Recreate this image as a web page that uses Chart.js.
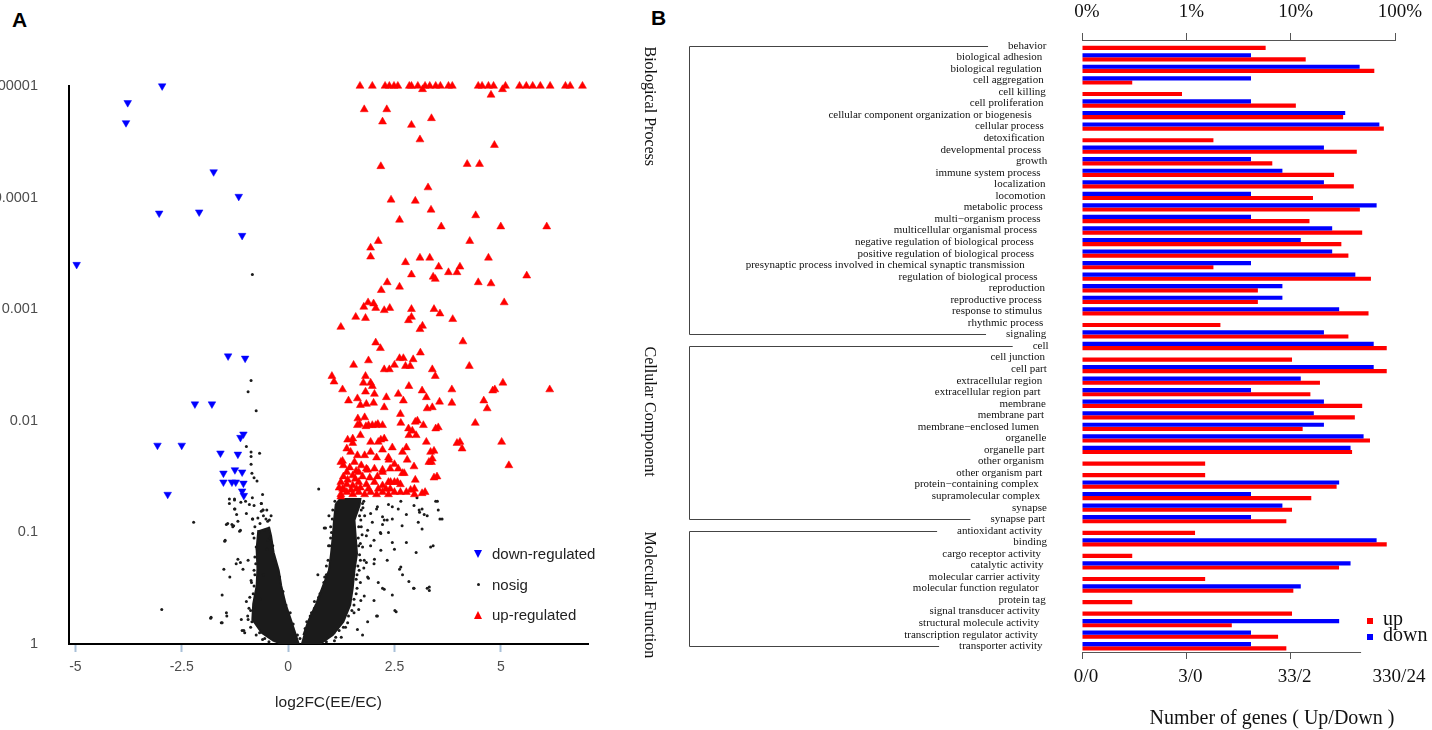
<!DOCTYPE html>
<html>
<head>
<meta charset="utf-8">
<script src="https://cdn.jsdelivr.net/npm/chart.js@4.4.1/dist/chart.umd.min.js"></script>
<style>
  html, body { margin: 0; padding: 0; background: #fff; }
  body { width: 1432px; height: 730px; position: relative; overflow: hidden; font-family: "Liberation Sans", Arial, sans-serif; }
  #wrapA { position: absolute; left: -12px; top: 0; }
  #wrapB { position: absolute; left: 640px; top: 0; }
  .tag { position: absolute; font: bold 21px/21px "Liberation Sans", Arial, sans-serif; color: #000; }
  .lgA { position: absolute; left: 474px; height: 16px; line-height: 16px; font-size: 15px; color: #222; }
  .lgA .mk { position: absolute; left: 0; top: 4px; width: 0; height: 0; }
  .lgA .txt { position: absolute; left: 18px; top: 0; white-space: nowrap; }
  .mk.down { border-left: 4.5px solid transparent; border-right: 4.5px solid transparent; border-top: 8px solid #0000ff; }
  .mk.dot { left: 3px !important; top: 6px !important; width: 3px !important; height: 3px !important; border-radius: 50%; background: #1b1b1b; }
  .mk.up { border-left: 4.5px solid transparent; border-right: 4.5px solid transparent; border-bottom: 8px solid #ff0000; }
  .lgB { position: absolute; left: 1383px; font: 20px/20px "Liberation Serif", "Times New Roman", serif; color: #111; white-space: nowrap; }
  .sqB { position: absolute; left: 1367px; width: 6px; height: 6px; }
  #titleB { position: absolute; left: 1122px; width: 300px; top: 705px; text-align: center; font: 20px/24px "Liberation Serif", "Times New Roman", serif; color: #111; white-space: nowrap; }
</style>
</head>
<body>
<div class="tag" style="left:12px; top:9px;">A</div>
<div class="tag" style="left:651px; top:7px;">B</div>

<div id="wrapA"><canvas id="volcano" width="640" height="730"></canvas></div>
<div id="wrapB"><canvas id="goBars" width="792" height="730"></canvas></div>

<div class="lgA" style="top:546px;"><span class="mk down"></span><span class="txt">down-regulated</span></div>
<div class="lgA" style="top:577px;"><span class="mk dot"></span><span class="txt">nosig</span></div>
<div class="lgA" style="top:607px;"><span class="mk up"></span><span class="txt">up-regulated</span></div>

<div class="sqB" style="top:618px; background:#ff0000;"></div>
<div class="lgB" style="top:608px;">up</div>
<div class="sqB" style="top:634px; background:#0000ff;"></div>
<div class="lgB" style="top:624px;">down</div>
<div id="titleB">Number of genes ( Up/Down )</div>

<script>
// ---------- Panel A: volcano plot, points are [log2FC, log10(p)] ----------
var xTickValues = [-5, -2.5, 0, 2.5, 5];
var xTickLabels = ['-5', '-2.5', '0', '2.5', '5'];
var yTickValues = [0.00001, 0.0001, 0.001, 0.01, 0.1, 1];
var yTickLabels = ['0.00001', '0.0001', '0.001', '0.01', '0.1', '1'];

var downGenes = [
  [-2.96,-5.0],[-3.77,-4.85],[-3.81,-4.67],[-1.75,-4.23],[-1.16,-4.01],[-3.03,-3.86],[-2.09,-3.87],
  [-1.08,-3.66],[-4.97,-3.40],[-1.41,-2.58],[-1.01,-2.56],[-2.19,-2.15],[-1.79,-2.15],[-1.05,-1.88],
  [-1.12,-1.85],[-3.07,-1.78],[-2.50,-1.78],[-1.59,-1.71],[-1.18,-1.70],[-1.52,-1.53],[-1.25,-1.56],
  [-1.08,-1.54],[-1.52,-1.45],[-1.32,-1.45],[-1.23,-1.45],[-1.05,-1.44],[-1.08,-1.37],[-1.04,-1.33],
  [-2.83,-1.34]
];

var upGenes = [
  [1.69,-5],[1.98,-5],[2.28,-5],[2.38,-5],[2.49,-5],[2.58,-5],[2.85,-5],[2.90,-5],[3.05,-5],[3.22,-5],
  [3.33,-5],[3.47,-5],[3.58,-5],[3.77,-5],[3.86,-5],[4.47,-5],[4.56,-5],[4.71,-5],[4.83,-5],[5.11,-5],
  [5.44,-5],[5.60,-5],[5.75,-5],[5.93,-5],[6.16,-5],[6.52,-5],[6.63,-5],[6.92,-5],[3.16,-4.97],[5.04,-4.97],
  [4.77,-4.92],
  [1.79,-4.79],[2.32,-4.79],[2.22,-4.68],[2.90,-4.65],[3.37,-4.71],[3.10,-4.52],[4.85,-4.47],[2.18,-4.28],
  [4.21,-4.30],[4.50,-4.30],[3.29,-4.09],[2.42,-3.98],[2.99,-3.97],[3.36,-3.89],[4.41,-3.84],[2.62,-3.80],
  [3.60,-3.74],[5.00,-3.74],[6.08,-3.74],[2.12,-3.61],[4.27,-3.61],[1.94,-3.55],[1.94,-3.47],[2.76,-3.42],
  [3.10,-3.46],[3.33,-3.46],[4.71,-3.46],[3.54,-3.38],[4.04,-3.38],[2.90,-3.31],[3.41,-3.29],[3.46,-3.27],
  [3.77,-3.33],[3.97,-3.33],[5.61,-3.30],[2.33,-3.24],[4.47,-3.24],[4.77,-3.23],[2.19,-3.17],[2.62,-3.20],
  [5.08,-3.06],[1.78,-3.02],[1.88,-3.06],[2.01,-3.05],[2.06,-3.01],[2.26,-2.99],[2.39,-3.01],[2.90,-3.00],
  [3.43,-3.00],[3.57,-2.96],[1.59,-2.93],[1.82,-2.92],[2.90,-2.93],[2.83,-2.90],[3.87,-2.91],[1.24,-2.84],
  [3.16,-2.85],[3.10,-2.82],
  [2.06,-2.70],[2.17,-2.65],[4.11,-2.71],[1.54,-2.50],[1.89,-2.54],[2.62,-2.56],[2.71,-2.56],[2.94,-2.55],
  [3.11,-2.61],[2.76,-2.49],[2.87,-2.49],[4.26,-2.49],[2.26,-2.46],[2.38,-2.46],[2.50,-2.50],[3.39,-2.46],
  [3.46,-2.40],[1.03,-2.40],[1.08,-2.35],[1.28,-2.28],[1.42,-2.18],[1.63,-2.20],[1.82,-2.40],[1.77,-2.34],
  [1.94,-2.34],[1.98,-2.31],[1.82,-2.26],[2.03,-2.24],[2.31,-2.21],[2.59,-2.24],[2.71,-2.18],[2.84,-2.31],
  [3.15,-2.27],[3.25,-2.21],[3.56,-2.17],[3.85,-2.28],[3.85,-2.16],[4.81,-2.27],[4.86,-2.28],[5.05,-2.34],
  [4.60,-2.18],[4.68,-2.11],[6.15,-2.28],[1.70,-2.14],[1.84,-2.15],[2.01,-2.16],[2.26,-2.12],[2.64,-2.06],
  [3.04,-2.00],[3.18,-1.96],[3.27,-2.11],[3.39,-2.12],[3.53,-1.94],[4.40,-1.98],[1.64,-2.02],[1.80,-2.03],
  [1.68,-1.97],[1.89,-1.96],[1.98,-1.96],[2.11,-1.97],[2.22,-1.96],[2.83,-1.93],[2.92,-1.91],[3.01,-1.87],
  [2.84,-1.87],[3.25,-1.81],[3.43,-1.73],[4.04,-1.81],[4.09,-1.75],[5.02,-1.81],[5.19,-1.60],[3.39,-1.66],
  [3.37,-1.63],[3.50,-1.50],[2.99,-1.47],[2.97,-1.39],[3.22,-1.36],[2.73,-1.53],[2.45,-1.76],[2.26,-1.84],
  [2.78,-1.76],[2.69,-1.72],[1.70,-1.87],[1.52,-1.84],[1.94,-1.81],[2.12,-1.81],[1.38,-1.75],[1.47,-1.72],
  [1.28,-1.64],[1.56,-1.63],[1.80,-1.69],[2.08,-1.67],[2.36,-1.67],[2.50,-1.61],[2.59,-1.57],
  [1.38,-1.54],[1.52,-1.51],[1.66,-1.54],[1.84,-1.57],[2.03,-1.57],[2.22,-1.54],[2.40,-1.57],
  [1.24,-1.45],[1.38,-1.43],[1.52,-1.42],[1.66,-1.45],[1.84,-1.43],[2.03,-1.45],[2.22,-1.42],[2.36,-1.45],
  [2.50,-1.45],[2.64,-1.43],
  [1.24,-1.34],[1.38,-1.36],[1.52,-1.34],[1.66,-1.36],[1.80,-1.34],[1.94,-1.36],[2.08,-1.34],[2.22,-1.36],
  [2.36,-1.34],[2.50,-1.36],[2.64,-1.36],[2.78,-1.36],[2.97,-1.34],
  [1.28,-1.39],[1.61,-1.39],[1.89,-1.39],[2.12,-1.39],[2.40,-1.39],
  [1.30,-1.60],[1.45,-1.58],[1.60,-1.55],[1.72,-1.60],[1.40,-1.47],[1.58,-1.48],[1.75,-1.50],[1.92,-1.49],
  [2.10,-1.50],[1.30,-1.50],[1.20,-1.40],[1.48,-1.38],[1.70,-1.40],[2.30,-1.39],
  [1.63,-1.96],[1.83,-1.95],[2.06,-1.96],[2.18,-1.83],[2.65,-1.98],[2.99,-1.99],[3.47,-1.93],[3.97,-1.80],
  [3.35,-1.72],[3.31,-1.63],[3.43,-1.49],[2.88,-1.38],[3.15,-1.35],[2.69,-1.53],[2.96,-1.59],[2.80,-1.65],
  [2.41,-1.45],[2.57,-1.45],[2.37,-1.65],[1.40,-1.83],[1.52,-1.80],[1.63,-1.69],[1.24,-1.63],[1.24,-1.32],
  [1.32,-1.38],[1.87,-1.56],[2.22,-1.56],[1.94,-1.72],[2.22,-1.74]
];

var nosigGenes = [
  [-0.84,-3.31],[-0.87,-2.36],[-0.94,-2.26],[-0.75,-2.09],[-0.98,-1.77],[-0.87,-1.72],[-0.87,-1.68],
  [-0.67,-1.71],[-0.87,-1.61],[-0.85,-1.53],[-0.80,-1.49],[-0.73,-1.46],[-0.60,-1.34],[-0.84,-1.31],
  [-1.38,-1.30],[-1.38,-1.26],[-1.26,-1.30],[-1.26,-1.21],[-1.00,-1.28],[-0.91,-1.25],[-0.80,-1.24],
  [-0.63,-1.26],[-0.63,-1.19],[-0.98,-1.17],[-0.83,-1.12],[-0.71,-1.13],[-1.45,-1.07],[-1.32,-1.07],
  [-0.48,-1.10],[-2.22,-1.09],
  [-1.11,-1.27],[-0.59,-1.20],[-1.25,-1.21],[-1.21,-1.16],[-1.18,-1.10],[-1.42,-1.08],[-1.28,-1.06],
  [-1.12,-1.02],[-0.84,-1.12],[-1.48,-0.93],[-1.51,-0.67],[-1.12,-0.73],[-1.55,-0.44],[-2.97,-0.31],
  [-1.81,-0.24],[-1.44,-0.25],[-1.57,-0.19],[-1.08,-0.12],[-1.18,-0.76],[-1.06,-0.67],
  [-1.82,-0.23],[-1.49,-0.92],[-1.30,-1.05],[-1.37,-0.60],[-1.22,-0.72],[-1.14,-1.01],[-1.55,-0.19],
  [-1.45,-0.28],[-1.04,-0.12],[-1.10,-0.22],[-0.98,-0.38],[-0.87,-0.57],[-0.94,-0.75],[-0.83,-0.99],
  [-0.44,-1.11],[-0.63,-1.26],[-0.59,-1.20],[-1.26,-1.29],
  [-0.56,-1.02],[-0.48,-0.93],[-0.75,-0.87],[-0.36,-0.75],[-0.79,-0.33],[-0.94,-0.22],[-1.02,-0.10],
  [-0.67,-0.10],[-0.82,-0.45],[-0.78,-0.62],[-0.72,-0.85],[-0.68,-1.00],[-0.58,-1.15],[-0.50,-1.20],
  [-0.40,-1.15],[-0.85,-0.20],[-0.55,-0.05],[-0.88,-0.30],[-0.80,-0.52],[-0.76,-0.72],
  [-0.78,-1.05],[-0.66,-1.08],[-0.52,-1.12],[-0.80,-0.95],[-0.42,-0.95],[-0.36,-0.88],[-0.78,-0.78],
  [-0.30,-0.70],[-0.80,-0.66],[-0.20,-0.60],[-0.86,-0.55],[-0.12,-0.47],[-0.90,-0.42],[-0.05,-0.35],
  [-0.92,-0.32],[0.05,-0.28],[-0.95,-0.25],[0.12,-0.18],[-0.88,-0.15],[-0.75,-0.08],[0.22,-0.08],
  [-0.60,-0.04],[-0.45,-0.02],[-0.70,-0.18],[-0.65,-0.40],[-0.58,-0.62],[-0.50,-0.85],
  [0.70,-0.62],[0.85,-1.04],[0.44,-0.20],[0.72,-1.39],[0.88,-1.04],[1.09,-0.03],[1.75,-0.08],
  [2.26,-1.11],[2.36,-1.25],[2.45,-1.12],[2.59,-1.21],[2.68,-1.06],[2.78,-1.16],[3.03,-1.31],[3.09,-1.18],
  [3.15,-1.21],[3.27,-1.15],[3.06,-1.09],[3.51,-1.28],[3.53,-1.20],[3.62,-1.12],[3.41,-0.88],[3.01,-0.82],
  [2.62,-0.67],[2.95,-0.50],[3.32,-0.51],[3.32,-0.48],[2.54,-0.29],[2.12,-0.55],[2.26,-0.49],[2.03,-0.76],
  [1.94,-0.88],[2.45,-0.91],[2.50,-0.85],[2.78,-0.91],[2.36,-1.00],[2.17,-1.00],[2.22,-1.07],[2.08,-1.21],
  [3.15,-1.03],[3.20,-1.16],[1.98,-1.09],[1.84,-0.97],[1.84,-0.73],[1.89,-0.59],[1.79,-0.43],[1.66,-0.31],
  [2.08,-0.25],
  [2.45,-1.23],[2.65,-1.28],[2.96,-1.24],[3.08,-1.20],[3.47,-1.28],[3.57,-1.12],[3.35,-0.87],[3.27,-0.50],
  [2.96,-0.50],[2.65,-0.69],[2.69,-0.62],[2.84,-0.56],[2.51,-0.30],[2.45,-0.44],[2.22,-0.50],[2.02,-0.39],
  [1.87,-0.20],[1.63,-0.13],[2.10,-0.25],
  [1.71,-1.11],[1.87,-1.02],[2.02,-0.93],[2.18,-0.84],[2.33,-0.75],[1.79,-0.75],[1.87,-0.60],[2.02,-0.72],
  [1.75,-0.87],[2.18,-0.99],[2.33,-1.11],[1.94,-1.17],[2.22,-1.14],[1.75,-1.26],[2.10,-1.23],[1.67,-0.66],
  [1.71,-0.39],[1.55,-0.28],[1.40,-0.19],[1.08,-0.10],
  [1.65,-0.95],[1.68,-0.80],[1.62,-0.50],[1.55,-0.40],[1.35,-0.15],[1.20,-0.12],[0.95,-0.88],[0.90,-0.70],
  [0.75,-0.45],[0.55,-0.28],[1.00,-1.05],[1.05,-1.20],[1.78,-1.28],[1.72,-1.20],[1.66,-1.05],[1.70,-0.90],
  [1.64,-0.70],[1.60,-0.58],[1.50,-0.30],[1.25,-0.06],[0.96,-1.15],[1.00,-0.95],[0.86,-0.60],[0.62,-0.38],
  [0.28,-0.05],[0.40,-0.14],[0.52,-0.25],[0.62,-0.32],[0.72,-0.42],[0.84,-0.55],[0.90,-0.62],[0.94,-0.75],
  [0.98,-0.88],[1.02,-1.00],[1.04,-1.12],[1.10,-1.28],[1.15,-1.18],[1.68,-1.15],[1.72,-1.05],[1.66,-0.88],
  [1.70,-0.75],[1.62,-0.62],[1.60,-0.45],[1.55,-0.35],[1.42,-0.25],[1.30,-0.15],[1.12,-0.06],[0.90,-0.02],
  [1.76,-1.22],[1.80,-1.15],[1.74,-0.98],[1.78,-0.68],[1.70,-0.55]
];

// outlines of the solid black mass where the nosig points overlap completely
var nosigCoreLeft = [
  [-0.70,-1.02],[-0.74,-0.85],[-0.72,-0.68],[-0.74,-0.52],[-0.82,-0.36],[-0.84,-0.22],[-0.62,-0.10],
  [-0.35,-0.03],[-0.15,0],[0.25,0],[0.20,-0.06],[0.08,-0.20],[-0.06,-0.36],[-0.16,-0.52],[-0.22,-0.66],
  [-0.34,-0.82],[-0.40,-0.97],[-0.45,-1.05]
];
var nosigCoreRight = [
  [0.30,0],[0.75,0],[1.05,-0.08],[1.30,-0.20],[1.46,-0.35],[1.52,-0.50],[1.56,-0.66],[1.62,-0.81],
  [1.59,-0.96],[1.56,-1.11],[1.68,-1.24],[1.70,-1.30],[1.22,-1.30],[1.12,-1.25],[1.08,-1.11],[1.05,-0.96],
  [1.01,-0.81],[0.96,-0.66],[0.81,-0.51],[0.66,-0.36],[0.48,-0.21],[0.36,-0.08]
];

// ---------- Panel B: GO classification ----------
var goTerms = [
  'behavior', 'biological adhesion', 'biological regulation', 'cell aggregation', 'cell killing',
  'cell proliferation', 'cellular component organization or biogenesis', 'cellular process',
  'detoxification', 'developmental process', 'growth', 'immune system process', 'localization',
  'locomotion', 'metabolic process', 'multi\u2212organism process', 'multicellular organismal process',
  'negative regulation of biological process', 'positive regulation of biological process',
  'presynaptic process involved in chemical synaptic transmission', 'regulation of biological process',
  'reproduction', 'reproductive process', 'response to stimulus', 'rhythmic process', 'signaling',
  'cell', 'cell junction', 'cell part', 'extracellular region', 'extracellular region part', 'membrane',
  'membrane part', 'membrane\u2212enclosed lumen', 'organelle', 'organelle part', 'other organism',
  'other organism part', 'protein\u2212containing complex', 'supramolecular complex', 'synapse', 'synapse part',
  'antioxidant activity', 'binding', 'cargo receptor activity', 'catalytic activity',
  'molecular carrier activity', 'molecular function regulator', 'protein tag', 'signal transducer activity',
  'structural molecule activity', 'transcription regulator activity', 'transporter activity'
];
var groupNames = ['Biological Process', 'Cellular Component', 'Molecular Function'];
var groupSizes = [26, 16, 11];

var upCounts = [19, 46, 209, 1, 3, 37, 105, 258, 6, 142, 22, 86, 133, 54, 152, 50, 160, 101, 118, 6, 194, 16, 16, 184, 7, 118,
  275, 34, 275, 63, 51, 160, 136, 43, 190, 128, 5, 5, 91, 52, 34, 30,
  4, 275, 1, 96, 5, 35, 1, 34, 9, 25, 30];
var downCounts = [0, 1, 11, 1, 0, 1, 8, 17, 0, 5, 1, 2, 5, 1, 16, 1, 6, 3, 6, 1, 10, 2, 2, 7, 0, 5,
  15, 0, 15, 3, 1, 5, 4, 5, 12, 9, 0, 0, 7, 1, 2, 1,
  0, 16, 0, 9, 0, 3, 0, 0, 7, 1, 1];
var upTotal = 330;
var downTotal = 24;

var topTickLabels = ['0%', '1%', '10%', '100%'];
var bottomTickLabels = ['0/0', '3/0', '33/2', '330/24'];
var axisDecades = [0, 1, 2, 3];
var bottomAxisEnd = 2.675;

Chart.defaults.font.family = '"Liberation Sans", Arial, sans-serif';

function toPoints(pairs) {
	return pairs.map(function (p) { return {x: p[0], y: Math.pow(10, p[1])}; });
}

// the percentage axis: 0.1% at 0, then one unit per decade
function toAxis(count, total) {
	return count > 0 ? Math.log10(1000 * count / total) : null;
}

// nudge layout padding so the plot area lands where the figure has it
function fitArea(chart, target) {
	var a = chart.chartArea, p = chart.options.layout.padding;
	p.left += target.left - a.left;
	p.right += a.right - target.right;
	p.top += target.top - a.top;
	p.bottom += a.bottom - target.bottom;
	chart.update();
}

var ink = '#1b1b1b';

var volcano = new Chart(document.getElementById('volcano'), {
	type: 'scatter',
	data: {
		datasets: [
			{ label: 'down-regulated', data: toPoints(downGenes), pointStyle: 'triangle', pointRotation: 180,
			  pointRadius: 4.4, backgroundColor: '#0000ff', borderColor: '#0000ff', borderWidth: 0.5, clip: false },
			{ label: 'up-regulated', data: toPoints(upGenes), pointStyle: 'triangle',
			  pointRadius: 4.6, backgroundColor: '#ff0000', borderColor: '#ff0000', borderWidth: 0.5, clip: false },
			{ label: 'nosig', data: toPoints(nosigGenes), pointRadius: 1.5, backgroundColor: ink, borderWidth: 0 },
			{ label: 'core', data: toPoints(nosigCoreRight), showLine: true, fill: 'shape', tension: 0,
			  backgroundColor: ink, borderColor: ink, borderWidth: 2, pointRadius: 0 },
			{ label: 'core', data: toPoints(nosigCoreLeft), showLine: true, fill: 'shape', tension: 0,
			  backgroundColor: ink, borderColor: ink, borderWidth: 2, pointRadius: 0 }
		]
	},
	options: {
		responsive: false,
		animation: false,
		events: [],
		layout: { padding: { left: 0, right: 40, top: 86, bottom: 25 } },
		plugins: { legend: { display: false }, tooltip: { enabled: false } },
		scales: {
			x: {
				type: 'linear', min: -5.15, max: 7.05,
				afterBuildTicks: function (s) { s.ticks = xTickValues.map(function (v) { return {value: v}; }); },
				ticks: { callback: function (v, i) { return xTickLabels[i]; }, color: '#4d4d4d',
					font: { size: 14 }, padding: 6.6, maxRotation: 0, autoSkip: false },
				grid: { drawOnChartArea: false, drawTicks: true, tickLength: 8, tickColor: '#a9c0d8', tickWidth: 2 },
				border: { color: '#000', width: 2 },
				title: { display: true, text: 'log2FC(EE/EC)', color: '#222', font: { size: 15.5 },
					padding: { top: 11, bottom: 0 } }
			},
			y: {
				type: 'logarithmic', reverse: true, min: 0.00001, max: 1,
				afterBuildTicks: function (s) { s.ticks = yTickValues.map(function (v) { return {value: v}; }); },
				afterFit: function (s) { s.width = 81; },
				ticks: { callback: function (v, i) { return yTickLabels[i]; }, color: '#4d4d4d',
					font: { size: 14.5 }, padding: 23, autoSkip: false },
				grid: { display: false },
				border: { color: '#000', width: 2 }
			}
		}
	}
});
fitArea(volcano, { left: 81, right: 600, top: 86, bottom: 644 });

var serif = '"Liberation Serif", "Times New Roman", serif';

// GO term names (ragged right edge like the figure), group brackets and group names
var goGroups = {
	id: 'goGroups',
	afterDraw: function (chart) {
		var ctx = chart.ctx, y = chart.scales.y, x = chart.scales.x, area = chart.chartArea;
		var anchor = area.left - 32;
		var lefts = [];
		ctx.save();
		ctx.font = '11px ' + serif;
		ctx.fillStyle = '#111';
		ctx.textAlign = 'left';
		ctx.textBaseline = 'middle';
		goTerms.forEach(function (term, i) {
			var w = ctx.measureText(term).width;
			var left = anchor - 1.09 * w;
			lefts.push(left);
			ctx.fillText(term, left, y.getPixelForValue(i));
		});

		ctx.strokeStyle = '#444';
		ctx.lineWidth = 1;
		var start = 0;
		groupNames.forEach(function (name, g) {
			var first = start, last = start + groupSizes[g] - 1;
			var yTop = Math.round(y.getPixelForValue(first)) + 0.5;
			var yBot = Math.round(y.getPixelForValue(last)) + 0.5;
			ctx.beginPath();
			ctx.moveTo(lefts[first] - 20, yTop);
			ctx.lineTo(49.5, yTop);
			ctx.lineTo(49.5, yBot);
			ctx.lineTo(lefts[last] - 20, yBot);
			ctx.stroke();

			ctx.save();
			ctx.translate(9, yTop);
			ctx.rotate(Math.PI / 2);
			ctx.font = '16px ' + serif;
			ctx.textAlign = 'left';
			ctx.textBaseline = 'middle';
			ctx.fillText(name, 0, 0);
			ctx.restore();
			start = last + 1;
		});
		// bottom axis line stops short of the last tick, as in the figure
		ctx.strokeStyle = '#555';
		ctx.beginPath();
		ctx.moveTo(x.getPixelForValue(0), Math.round(area.bottom) + 0.5);
		ctx.lineTo(x.getPixelForValue(bottomAxisEnd), Math.round(area.bottom) + 0.5);
		ctx.stroke();
		ctx.restore();
	}
};

var goBars = new Chart(document.getElementById('goBars'), {
	type: 'bar',
	data: {
		labels: goTerms,
		datasets: [
			{ label: 'down', data: downCounts.map(function (c) { return toAxis(c, downTotal); }),
			  backgroundColor: '#0000ff', borderWidth: 0 },
			{ label: 'up', data: upCounts.map(function (c) { return toAxis(c, upTotal); }),
			  backgroundColor: '#ff0000', borderWidth: 0 }
		]
	},
	options: {
		indexAxis: 'y',
		responsive: false,
		animation: false,
		events: [],
		categoryPercentage: 0.72,
		barPercentage: 1,
		layout: { padding: { left: 0, right: 37, top: 0.3, bottom: 41.6 } },
		plugins: { legend: { display: false }, tooltip: { enabled: false } },
		scales: {
			y: {
				type: 'category',
				afterFit: function (s) { s.width = 442; },
				ticks: { display: false, autoSkip: false },
				grid: { display: false },
				border: { display: false }
			},
			x: {
				position: 'bottom', min: 0, max: 3,
				afterBuildTicks: function (s) { s.ticks = axisDecades.map(function (v) { return {value: v}; }); },
				ticks: { callback: function (v, i) { return bottomTickLabels[i]; }, color: '#111',
					font: { family: serif, size: 19 }, padding: 6.6, labelOffset: 4, maxRotation: 0, autoSkip: false },
				grid: { drawOnChartArea: false, tickLength: 7, tickWidth: 1,
					tickColor: function (c) { return c.index === 3 ? 'rgba(0,0,0,0)' : '#555'; } },
				border: { display: false }
			},
			xTop: {
				type: 'linear', position: 'top', min: 0, max: 3,
				afterBuildTicks: function (s) { s.ticks = axisDecades.map(function (v) { return {value: v}; }); },
				ticks: { callback: function (v, i) { return topTickLabels[i]; }, color: '#111',
					font: { family: serif, size: 19 }, padding: 10, labelOffset: 5, maxRotation: 0, autoSkip: false },
				grid: { drawOnChartArea: false, tickLength: 7, tickWidth: 1, tickColor: '#555' },
				border: { color: '#555', width: 1 }
			}
		}
	},
	plugins: [goGroups]
});
fitArea(goBars, { left: 442, right: 755, top: 40, bottom: 652 });
</script>
</body>
</html>
